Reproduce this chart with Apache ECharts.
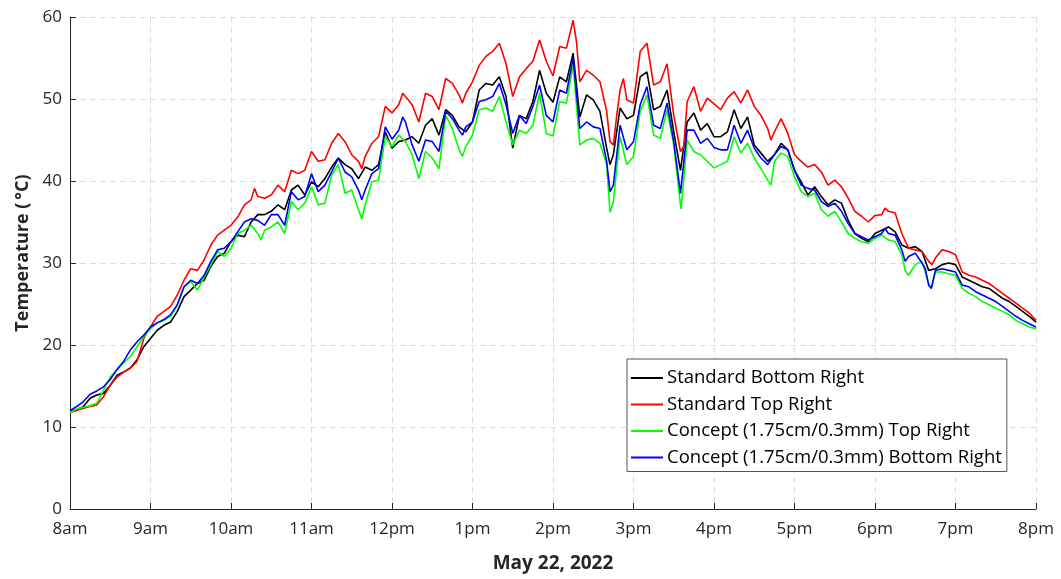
<!DOCTYPE html>
<html>
<head>
<meta charset="utf-8">
<script src="https://cdn.jsdelivr.net/npm/echarts@6/dist/echarts.min.js"></script>
<style>
  html, body { margin: 0; padding: 0; background: #fff; }
  #chart { width: 1061px; height: 579px; }
</style>
</head>
<body>
<div id="chart"></div>
<script>
// Time axis: minutes after 8am, sampled every 5 minutes (8:00 .. 20:00)
const xTickLabels = ['8am', '9am', '10am', '11am', '12pm', '1pm', '2pm', '3pm', '4pm', '5pm', '6pm', '7pm', '8pm'];
const yTickValues = [0, 10, 20, 30, 40, 50, 60];
const stepMinutes = 5;

const seriesNames = [
  'Standard Bottom Right',
  'Standard Top Right',
  'Concept (1.75cm/0.3mm) Top Right',
  'Concept (1.75cm/0.3mm) Bottom Right'
];
const seriesColors = ['#000000', '#ff0000', '#00ff00', '#0000ff'];

// Temperatures (°C) every 5 minutes
const standardBottomRight = [
  12.0, 12.1, 12.5, 13.5, 13.9, 14.1, 15.1, 16.3, 16.7, 17.2, 18.2, 19.8,
  20.8, 21.8, 22.4, 22.8, 24.1, 25.9, 26.7, 27.5, 27.9, 29.6, 30.8, 31.2,
  32.6, 33.4, 33.2, 35.0, 35.9, 35.9, 36.3, 37.1, 36.5, 38.9, 39.5, 38.3,
  39.9, 39.3, 40.3, 41.7, 42.8, 42.0, 41.5, 40.3, 41.7, 41.3, 42.0, 46.0,
  44.0, 44.8, 45.0, 45.4, 44.6, 46.8, 47.6, 45.6, 48.7, 48.0, 46.6, 46.0,
  47.2, 51.1, 51.9, 51.7, 52.7, 50.3, 44.0, 48.0, 47.6, 49.7, 53.5, 50.7,
  49.6, 52.7, 52.1, 55.6, 47.8, 50.5, 49.9, 48.5, 44.0, 43.2, 48.9, 47.6,
  48.0, 52.7, 53.3, 48.7, 49.1, 51.1, 46.0, 41.3, 47.2, 48.3, 46.2, 47.0,
  45.4, 45.4, 46.0, 48.7, 46.4, 47.8, 44.4, 43.4, 42.4, 43.2, 44.6, 43.8,
  41.3, 39.9, 38.3, 39.3, 38.1, 37.1, 37.7, 37.3, 35.2, 33.6, 33.0, 32.6,
  33.6, 34.0, 34.4, 33.8, 32.2, 31.8, 32.0, 31.4, 29.1, 29.3, 29.8, 30.0,
  29.8, 28.3, 27.9, 27.5, 27.1, 26.9, 26.3, 25.7, 25.3, 24.7, 24.1, 23.5,
  22.8
];
const standardTopRight = [
  11.8, 12.0, 12.3, 12.5, 12.7, 13.7, 15.1, 16.1, 16.7, 17.2, 18.0, 20.8,
  22.2, 23.5, 24.1, 24.7, 26.1, 27.9, 29.3, 29.1, 30.4, 32.2, 33.4, 34.0,
  34.6, 35.6, 37.1, 37.7, 38.1, 37.9, 38.3, 39.5, 38.7, 41.3, 40.9, 41.3,
  43.6, 42.4, 42.6, 44.6, 45.8, 44.8, 43.2, 42.4, 43.0, 44.6, 45.4, 49.1,
  48.3, 49.3, 50.3, 49.3, 47.2, 50.7, 50.3, 48.7, 52.5, 51.9, 50.5, 50.7,
  52.1, 54.1, 55.2, 55.8, 56.8, 54.3, 50.3, 52.7, 53.7, 54.6, 57.2, 54.6,
  52.8, 56.4, 56.2, 59.6, 52.1, 53.5, 52.9, 52.1, 48.5, 44.4, 51.1, 49.9,
  49.5, 55.8, 56.8, 51.7, 52.1, 54.3, 48.0, 43.6, 49.7, 51.5, 48.5, 50.1,
  49.4, 48.7, 50.1, 50.9, 49.5, 51.1, 49.1, 48.0, 46.4, 46.0, 47.6, 45.8,
  43.2, 42.4, 41.7, 42.0, 41.1, 39.5, 40.1, 39.3, 37.9, 36.3, 35.7, 35.0,
  35.8, 35.9, 36.3, 36.1, 33.6, 31.8, 31.6, 31.4, 30.2, 30.6, 31.6, 31.4,
  31.0, 28.9, 28.5, 28.3, 27.9, 27.5, 26.9, 26.3, 25.7, 25.1, 24.5, 23.9,
  23.0
];
const conceptTopRight = [
  11.8, 12.2, 12.4, 12.6, 12.9, 14.5, 16.1, 17.0, 17.8, 18.6, 19.8, 21.0,
  22.0, 22.7, 23.0, 23.5, 24.9, 27.1, 27.7, 26.7, 28.3, 29.8, 31.4, 30.8,
  31.8, 33.6, 34.0, 34.6, 33.6, 34.0, 34.4, 35.0, 33.6, 37.5, 36.5, 37.3,
  39.3, 37.1, 37.3, 40.7, 42.0, 38.5, 38.9, 36.5, 37.1, 39.9, 40.1, 45.4,
  44.2, 45.6, 44.8, 43.2, 40.3, 43.6, 42.8, 41.5, 48.0, 46.4, 43.8, 44.2,
  45.6, 48.7, 48.9, 48.5, 50.3, 47.2, 44.4, 46.2, 45.8, 46.8, 50.7, 45.8,
  45.5, 49.7, 49.5, 54.1, 44.4, 45.0, 45.2, 44.6, 42.0, 37.5, 45.4, 42.0,
  43.0, 48.5, 50.5, 45.6, 45.2, 48.7, 44.4, 37.1, 45.0, 43.6, 43.2, 42.4,
  41.6, 42.0, 42.4, 45.4, 43.4, 44.6, 42.8, 41.5, 40.1, 42.4, 43.4, 43.0,
  40.5, 38.7, 38.1, 38.5, 36.5, 35.7, 36.3, 35.0, 33.6, 33.0, 32.6, 32.4,
  33.0, 33.4, 32.8, 32.6, 31.0, 28.5, 29.8, 30.2, 27.5, 28.9, 28.9, 28.7,
  28.5, 26.9, 26.3, 25.9, 25.3, 24.9, 24.5, 24.1, 23.7, 23.0, 22.6, 22.2,
  22.0
];
const conceptBottomRight = [
  12.0, 12.5, 13.1, 14.0, 14.4, 14.9, 15.8, 17.0, 18.0, 19.4, 20.4, 21.2,
  22.2, 22.7, 23.1, 23.7, 24.9, 27.1, 27.9, 27.5, 28.5, 30.2, 31.6, 31.8,
  32.6, 33.8, 35.0, 35.4, 35.2, 34.6, 35.9, 35.9, 34.6, 38.7, 37.7, 38.1,
  40.9, 38.7, 39.5, 41.1, 42.8, 41.1, 40.5, 38.9, 38.9, 40.9, 41.5, 46.6,
  45.1, 46.2, 47.2, 44.4, 42.4, 45.0, 44.8, 43.6, 48.5, 47.6, 46.2, 46.6,
  47.2, 49.7, 49.9, 50.3, 51.9, 49.3, 45.8, 48.0, 47.0, 49.1, 51.7, 48.0,
  47.2, 51.1, 50.7, 55.0, 46.4, 47.2, 46.6, 46.4, 42.4, 39.5, 46.8, 43.8,
  44.8, 49.3, 51.5, 46.8, 46.4, 49.5, 44.8, 38.5, 46.2, 46.2, 44.6, 45.2,
  44.1, 43.8, 43.8, 46.8, 44.6, 46.2, 44.0, 42.8, 42.0, 43.2, 44.2, 43.8,
  41.3, 39.5, 39.1, 38.9, 37.5, 36.9, 37.3, 36.3, 34.8, 33.6, 33.2, 32.8,
  33.2, 33.6, 33.6, 33.4, 31.6, 30.8, 31.2, 30.0, 27.3, 29.1, 29.3, 29.1,
  28.9, 27.3, 27.1, 26.5, 26.1, 25.7, 25.3, 24.7, 24.1, 23.5, 23.0, 22.6,
  22.2
];

// Short excursions between the 5-minute samples: [minutes after 8am, °C]
const standardBottomRightExtra = [[402.5, 42.0]];
const standardTopRightExtra = [
  [137.5, 39.1], [217.5, 41.5], [248, 50.7], [292.5, 49.5], [377.5, 57.0],
  [402.5, 44.8], [407.5, 48.0], [412.5, 52.5], [457.5, 44.2], [522.5, 45.0],
  [607.5, 36.7], [642.5, 29.8]
];
const conceptTopRightExtra = [
  [142.5, 32.8], [217.5, 35.4], [292.5, 43.0], [402.5, 36.2], [455.5, 36.6],
  [522.5, 39.5], [622.5, 29.1], [642, 26.9]
];
const conceptBottomRightExtra = [
  [217.5, 37.7], [248, 47.8], [292.5, 45.6], [402.5, 38.7], [607.5, 34.2],
  [622.5, 30.2], [637.5, 29.3], [642, 26.9]
];

function buildSeriesData(values, extra) {
  const pts = values.map((v, i) => [i * stepMinutes, v]).concat(extra);
  pts.sort((a, b) => a[0] - b[0]);
  return pts;
}

const seriesValues = [standardBottomRight, standardTopRight, conceptTopRight, conceptBottomRight];
const seriesExtras = [standardBottomRightExtra, standardTopRightExtra, conceptTopRightExtra, conceptBottomRightExtra];

const FONT = 'Open Sans';
const TEXT_COLOR = '#262626';

const chart = echarts.init(document.getElementById('chart'), null, { renderer: 'canvas' });

chart.setOption({
  animation: false,
  backgroundColor: '#ffffff',
  grid: { left: 70, right: 25, top: 17, bottom: 70, containLabel: false },
  xAxis: {
    type: 'value',
    min: 0,
    max: 720,
    interval: 60,
    name: 'May 22, 2022',
    nameLocation: 'middle',
    nameGap: 45,
    nameTextStyle: { fontFamily: FONT, fontSize: 19, fontWeight: 'bold', color: TEXT_COLOR },
    axisLine: { show: true, onZero: false, lineStyle: { color: TEXT_COLOR, width: 1 } },
    axisTick: { show: true, inside: true, length: 6, lineStyle: { color: TEXT_COLOR } },
    axisLabel: {
      fontFamily: FONT, fontSize: 17, color: TEXT_COLOR, margin: 12,
      formatter: v => xTickLabels[Math.round(v / 60)]
    },
    splitLine: { show: true, lineStyle: { color: '#dcdcdc', type: [6, 4], width: 1 } }
  },
  yAxis: {
    type: 'value',
    min: yTickValues[0],
    max: yTickValues[yTickValues.length - 1],
    interval: 10,
    name: 'Temperature (\u2009°C)',
    nameLocation: 'middle',
    nameGap: 33,
    nameTextStyle: {
      fontFamily: FONT, fontSize: 18, fontWeight: 'bold', color: TEXT_COLOR,
      padding: [0, 0, 0, 20]
    },
    axisLine: { show: true, lineStyle: { color: TEXT_COLOR, width: 1 } },
    axisTick: { show: true, inside: true, length: 6, lineStyle: { color: TEXT_COLOR } },
    axisLabel: { fontFamily: FONT, fontSize: 17, color: TEXT_COLOR, margin: 8 },
    splitLine: { show: true, lineStyle: { color: '#dcdcdc', type: [6, 4], width: 1 } }
  },
  legend: {
    orient: 'vertical',
    left: 627,
    top: 359,
    padding: [9, 5, 4, 4],
    itemGap: 6.5,
    itemWidth: 32,
    itemHeight: 2,
    icon: 'rect',
    backgroundColor: '#ffffff',
    borderColor: '#555555',
    borderWidth: 1,
    borderRadius: 0,
    textStyle: { fontFamily: FONT, fontSize: 18.5, color: '#000000', lineHeight: 20, padding: [0, 0, 0, -1] },
    data: seriesNames
  },
  series: seriesNames.map((name, i) => ({
    name,
    type: 'line',
    data: buildSeriesData(seriesValues[i], seriesExtras[i]),
    showSymbol: false,
    symbol: 'none',
    color: seriesColors[i],
    lineStyle: { color: seriesColors[i], width: 1.6 },
    z: 2 + i
  }))
});
</script>
</body>
</html>
